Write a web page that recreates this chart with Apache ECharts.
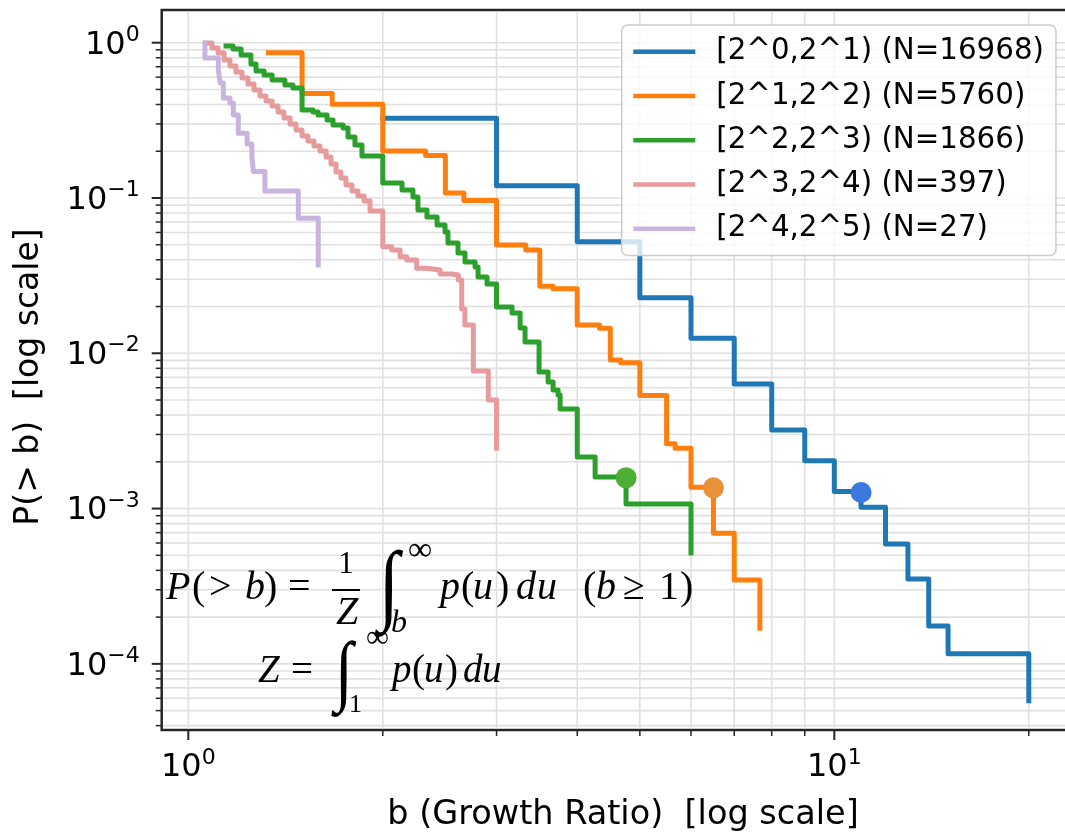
<!DOCTYPE html>
<html>
<head>
<meta charset="utf-8">
<script src="https://cdn.jsdelivr.net/npm/echarts@6/dist/echarts.min.js"></script>
<style>
  html, body { margin: 0; padding: 0; background: #ffffff; }
  #chart { width: 1065px; height: 836px; }
</style>
</head>
<body>
<div id="chart"></div>
<script>
// Groups of starting size and their sample counts
const groupNames = [
  '[2^0,2^1) (N=16968)',
  '[2^1,2^2) (N=5760)',
  '[2^2,2^3) (N=1866)',
  '[2^3,2^4) (N=397)',
  '[2^4,2^5) (N=27)'
];

// Empirical P(>b): first pair is where the curve starts, every next pair is
// the b at which it steps down and the level it steps down to.
const blueB = [2, 3, 4, 5, 6, 7, 8, 9, 10, 11, 12, 13, 14, 15, 20];
const blueP = [0.326, 0.120, 0.0523, 0.0228, 0.0125, 0.00634, 0.00321, 0.00203, 0.00129, 0.00102, 0.000592, 0.000352, 0.000175, 0.000116, 0.0000579];

const orangeB = [1.33, 1.5, 1.67, 2.0, 2.33, 2.5, 2.67, 3.0, 3.33, 3.5, 3.67, 4.0, 4.33, 4.5, 4.67, 5.0, 5.5, 5.67, 6.0, 6.5, 7.0, 7.67];
const orangeP = [0.862, 0.471, 0.402, 0.2007, 0.1878, 0.1077, 0.0964, 0.0498, 0.0463, 0.0270, 0.0260, 0.01521, 0.01449, 0.00905, 0.00870, 0.00535, 0.00261, 0.002445, 0.001371, 0.000693, 0.000347, 0.0001695];

const greenB = [1.144, 1.173, 1.207, 1.25, 1.273, 1.31, 1.348, 1.411, 1.452, 1.5, 1.56, 1.588, 1.64, 1.675, 1.736, 1.767, 1.811, 1.857, 2.0, 2.142, 2.227, 2.267, 2.341, 2.427, 2.497, 2.523, 2.615, 2.681, 2.779, 2.809, 2.9, 3.0, 3.171, 3.263, 3.321, 3.491, 3.605, 3.67, 3.736, 3.763, 4.0, 4.263, 4.76, 6.0];
const greenP = [0.952, 0.911, 0.833, 0.729, 0.657, 0.619, 0.575, 0.534, 0.511, 0.369, 0.358, 0.342, 0.318, 0.295, 0.282, 0.247, 0.2195, 0.1864, 0.1249, 0.1126, 0.1015, 0.0837, 0.0754, 0.067, 0.0604, 0.0513, 0.0442, 0.0387, 0.0359, 0.031, 0.0279, 0.01987, 0.01818, 0.01455, 0.01183, 0.00758, 0.00653, 0.0058, 0.00539, 0.00438, 0.00215, 0.001597, 0.00107, 0.000518];

const pinkB = [1.065, 1.088, 1.112, 1.136, 1.160, 1.185, 1.211, 1.237, 1.264, 1.291, 1.319, 1.348, 1.377, 1.406, 1.437, 1.468, 1.500, 1.532, 1.565, 1.599, 1.634, 1.663, 1.693, 1.723, 1.754, 1.792, 1.831, 1.871, 1.911, 2.0, 2.065, 2.127, 2.178, 2.257, 2.339, 2.453, 2.557, 2.618, 2.65, 2.68, 2.762, 2.913, 3.0];
const pinkP = [0.996, 0.924, 0.858, 0.774, 0.708, 0.648, 0.592, 0.542, 0.496, 0.454, 0.421, 0.391, 0.358, 0.327, 0.2996, 0.274, 0.2508, 0.2328, 0.2162, 0.2007, 0.1837, 0.1655, 0.147, 0.1345, 0.1213, 0.111, 0.103, 0.0956, 0.0825, 0.0486, 0.0463, 0.0419, 0.0399, 0.0353, 0.0344, 0.0324, 0.0319, 0.0296, 0.0193, 0.0152, 0.00769, 0.005, 0.002445];

const purpleB = [1.061, 1.061, 1.113, 1.120, 1.133, 1.160, 1.174, 1.195, 1.233, 1.254, 1.261, 1.314, 1.480, 1.589];
const purpleP = [0.996, 0.797, 0.667, 0.550, 0.440, 0.409, 0.342, 0.261, 0.2227, 0.1853, 0.1481, 0.1110, 0.0741, 0.0370];

// Highlighted points on the first three curves (b, P)
const highlightB = [11.0, 6.5, 4.76];
const highlightP = [0.00127, 0.00136, 0.00158];

// Axis tick positions (decades and the 2..9 multiples between them)
const xDecades = [1, 10];
const yDecades = [1, 0.1, 0.01, 0.001, 0.0001];
const minorSteps = [2, 3, 4, 5, 6, 7, 8, 9];

const X_MIN = 0.9095, X_MAX = 23.0;
const Y_MIN = 3.75e-5, Y_MAX = 1.624;

const lineColors = ['#1f77b4', '#ff7f0e', '#2ca02c', '#e69b9d', '#c9b4df'];
const dotColors = ['#3b78e0', '#e8913a', '#4caf32'];
const gridColor = '#e0e0e0';
const inkColor = '#262626';
const sansFont = "'DejaVu Sans', 'Noto Sans', sans-serif";
const mathFont = "'Liberation Serif', 'DejaVu Serif', serif";

function inRange(v, lo, hi) { return v >= lo * 0.9999 && v <= hi * 1.0001; }

const xTicks = [];
[0.1, 1, 10].forEach(function (d) {
  if (xDecades.indexOf(d) >= 0 && inRange(d, X_MIN, X_MAX)) xTicks.push([d, 1, 1]);
  minorSteps.forEach(function (m) { const v = m * d; if (inRange(v, X_MIN, X_MAX)) xTicks.push([v, 1, 0]); });
});
const yTicks = [];
[1e-5, 1e-4, 1e-3, 1e-2, 1e-1, 1].forEach(function (d) {
  if (yDecades.some(function (t) { return Math.abs(t - d) < d * 1e-6; }) && inRange(d, Y_MIN, Y_MAX)) yTicks.push([1, d, 1]);
  minorSteps.forEach(function (m) { const v = m * d; if (inRange(v, Y_MIN, Y_MAX)) yTicks.push([1, v, 0]); });
});

// "10^k" labels drawn with a raised exponent
function powLabel(value) {
  const l = Math.log10(value);
  const e = Math.round(l);
  if (Math.abs(l - e) > 1e-6) return '';
  return '{b|10}{s|' + (e < 0 ? '\u2212' + (-e) : String(e)) + '}';
}
const powRich = {
  b: { fontFamily: sansFont, fontSize: 32, color: '#000', lineHeight: 37, verticalAlign: 'bottom' },
  s: { fontFamily: sansFont, fontSize: 22, color: '#000', lineHeight: 22, verticalAlign: 'top' }
};

function xTickItem(params, api) {
  const cs = params.coordSys;
  const px = api.coord([api.value(0), 1])[0];
  const major = api.value(2) === 1;
  const bottom = cs.y + cs.height;
  return { type: 'group', children: [
    { type: 'line', shape: { x1: px, y1: cs.y + 1.5, x2: px, y2: bottom - 1.5 }, style: { stroke: gridColor, lineWidth: 1.6 } },
    { type: 'line', shape: { x1: px, y1: bottom, x2: px, y2: bottom + (major ? 10 : 6) }, style: { stroke: inkColor, lineWidth: major ? 2 : 1.5 } }
  ] };
}
function yTickItem(params, api) {
  const cs = params.coordSys;
  const py = api.coord([1, api.value(1)])[1];
  const major = api.value(2) === 1;
  return { type: 'group', children: [
    { type: 'line', shape: { x1: cs.x + 1.5, y1: py, x2: cs.x + cs.width - 1.5, y2: py }, style: { stroke: gridColor, lineWidth: 1.6 } },
    { type: 'line', shape: { x1: cs.x - (major ? 10 : 6), y1: py, x2: cs.x, y2: py }, style: { stroke: inkColor, lineWidth: major ? 2 : 1.5 } }
  ] };
}

function stepSeries(idx, xs, ys) {
  return {
    name: groupNames[idx], type: 'line', step: 'end', symbol: 'none', showSymbol: false,
    data: xs.map(function (x, i) { return [x, ys[i]]; }),
    color: lineColors[idx],
    lineStyle: { color: lineColors[idx], width: 5, cap: 'square', join: 'round', opacity: 1 },
    z: 3, animation: false
  };
}

// Pieces of the two formulas: [text, left x, baseline y, size, italic]
const formulaPieces = [
  ['P', 166, 600, 40, true], ['(', 192, 600, 40, false], ['>', 209, 600, 40, false],
  ['b', 245, 600, 40, true], [')', 264, 600, 40, false], ['=', 288, 600, 40, false],
  ['p', 440, 600, 40, true], ['(', 461, 600, 40, false], ['u', 473, 600, 40, true],
  [')', 496, 600, 40, false], ['d', 516, 600, 40, true], ['u', 537, 600, 40, true],
  ['(', 583, 600, 40, false], ['b', 596, 600, 40, true], ['\u2265', 623, 600, 40, false],
  ['1', 659, 600, 40, false], [')', 680, 600, 40, false],
  ['\u221e', 408, 561, 34, false], ['b', 391, 633, 32, true],
  ['Z', 258, 683, 39, true], ['=', 291, 683, 39, false],
  ['p', 392, 683, 39, true], ['(', 412, 683, 39, false], ['u', 424, 683, 39, true],
  [')', 445, 683, 39, false], ['d', 463, 683, 39, true], ['u', 482, 683, 39, true],
  ['\u221e', 366, 648, 32, false], ['1', 349, 713, 26, false]
];

const graphics = formulaPieces.map(function (p) {
  return { type: 'text', x: p[1], y: p[2] - 0.3 * p[3], z: 10, silent: true,
    style: { text: p[0], fontFamily: mathFont, fontSize: p[3], fontStyle: p[4] ? 'italic' : 'normal', fill: '#000', align: 'left', verticalAlign: 'middle' } };
});
// fraction 1/Z
graphics.push({ type: 'text', x: 346, y: 574 - 0.3 * 31, z: 10, silent: true,
  style: { text: '1', fontFamily: mathFont, fontSize: 31, fill: '#000', align: 'center', verticalAlign: 'middle' } });
graphics.push({ type: 'text', x: 347, y: 625 - 0.3 * 40, z: 10, silent: true,
  style: { text: 'Z', fontFamily: mathFont, fontSize: 40, fontStyle: 'italic', fill: '#000', align: 'center', verticalAlign: 'middle' } });
graphics.push({ type: 'line', z: 10, silent: true, shape: { x1: 332, y1: 590, x2: 360, y2: 590 }, style: { stroke: '#000', lineWidth: 2 } });
// integral signs
graphics.push({ type: 'text', x: 389, y: 590, scaleX: 0.85, z: 10, silent: true,
  style: { text: '\u222b', fontFamily: mathFont, fontSize: 89, fill: '#000', align: 'center', verticalAlign: 'middle' } });
graphics.push({ type: 'text', x: 344, y: 676, scaleX: 0.85, z: 10, silent: true,
  style: { text: '\u222b', fontFamily: mathFont, fontSize: 78, fill: '#000', align: 'center', verticalAlign: 'middle' } });
// axis titles
graphics.push({ type: 'text', x: 623, y: 815, z: 10, silent: true,
  style: { text: 'b (Growth Ratio)  [log scale]', fontFamily: sansFont, fontSize: 33.5, fill: '#000', align: 'center', verticalAlign: 'middle' } });
graphics.push({ type: 'text', x: 29, y: 377, rotation: Math.PI / 2, z: 10, silent: true,
  style: { text: 'P(> b)  [log scale]', fontFamily: sansFont, fontSize: 33, fill: '#000', align: 'center', verticalAlign: 'middle' } });

const chart = echarts.init(document.getElementById('chart'), null, { renderer: 'canvas' });
chart.setOption({
  animation: false,
  backgroundColor: '#ffffff',
  grid: { left: 161.7, top: 10, right: -3, bottom: 106, show: true, borderColor: inkColor, borderWidth: 2.5, backgroundColor: 'transparent', outerBoundsMode: 'none' },
  xAxis: {
    type: 'log', logBase: 10, min: X_MIN, max: X_MAX,
    axisLine: { show: false }, axisTick: { show: false }, splitLine: { show: false },
    axisLabel: { formatter: powLabel, rich: powRich, margin: 17 }
  },
  yAxis: {
    type: 'log', logBase: 10, min: Y_MIN, max: Y_MAX,
    axisLine: { show: false }, axisTick: { show: false }, splitLine: { show: false },
    axisLabel: { formatter: powLabel, rich: powRich, margin: 22 }
  },
  legend: {
    data: groupNames, orient: 'vertical', left: 621.7, top: 25,
    icon: 'rect', itemWidth: 62, itemHeight: 4.5, itemGap: 15,
    padding: [12, 12, 12, 11.6],
    backgroundColor: 'rgba(255,255,255,0.8)', borderColor: '#cccccc', borderWidth: 1.5, borderRadius: 6,
    textStyle: { fontFamily: sansFont, fontSize: 29.3, color: '#000', lineHeight: 29.3, padding: [0, 0, 0, 16] },
    selectedMode: false, z: 8
  },
  graphic: graphics,
  series: [
    { type: 'custom', renderItem: xTickItem, data: xTicks, encode: { x: 0, y: 1 }, z: 1, silent: true, animation: false },
    { type: 'custom', renderItem: yTickItem, data: yTicks, encode: { x: 0, y: 1 }, z: 1, silent: true, animation: false },
    stepSeries(0, blueB, blueP),
    stepSeries(1, orangeB, orangeP),
    stepSeries(2, greenB, greenP),
    stepSeries(3, pinkB, pinkP),
    stepSeries(4, purpleB, purpleP),
    {
      type: 'scatter', symbol: 'circle', symbolSize: 21, z: 6, silent: true, animation: false,
      data: highlightB.map(function (b, i) { return { value: [b, highlightP[i]], itemStyle: { color: dotColors[i], opacity: 1 } }; })
    }
  ]
});
</script>
</body>
</html>
